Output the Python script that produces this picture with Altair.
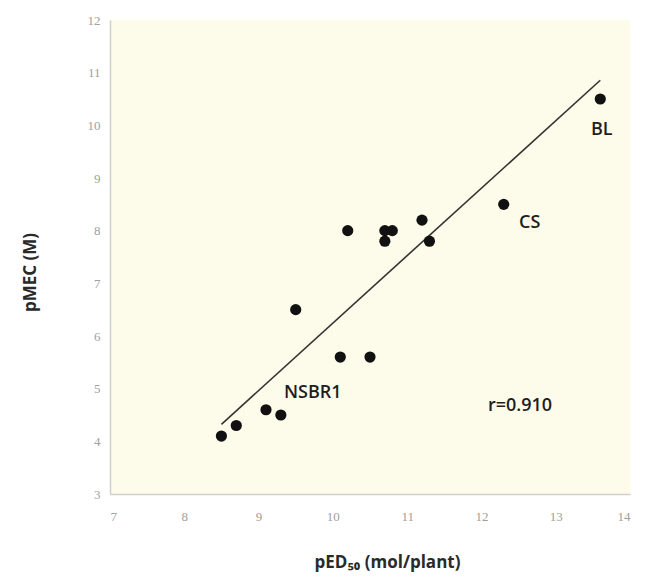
import altair as alt
import pandas as pd

# Data
ped50 = [8.5, 8.7, 9.1, 9.3, 9.5, 10.1, 10.5, 10.2, 10.7, 10.7, 10.8, 11.2, 11.3, 12.3, 13.6]
pmec = [4.1, 4.3, 4.6, 4.5, 6.5, 5.6, 5.6, 8.0, 7.8, 8.0, 8.0, 8.2, 7.8, 8.5, 10.5]

label_text = ["BL", "CS", "NSBR1", "r=0.910"]
label_x = [13.62, 12.65, 9.73, 12.52]
label_y = [9.92, 8.14, 4.91, 4.68]

x_ticks = [7, 8, 9, 10, 11, 12, 13, 14]
y_ticks = [3, 4, 5, 6, 7, 8, 9, 10, 11, 12]

df = pd.DataFrame({"x": ped50, "y": pmec})
lab = pd.DataFrame({"t": label_text, "x": label_x, "y": label_y})

xscale = alt.Scale(domain=[7, 14], nice=False, zero=False)
yscale = alt.Scale(domain=[3, 12], nice=False, zero=False)

xaxis = alt.Axis(
    values=x_ticks, format="d", grid=False, ticks=False, domainColor="#d0d0d0", domainWidth=1.5,
    labelFont="Liberation Serif", labelFontSize=13, labelColor="#a0a0a0", labelPadding=16,
    title="pED₅₀ (mol/plant)", titleFont="Open Sans", titleFontSize=17, titleFontWeight="bold",
    titleColor="#2a2a2a", titleX=277, titleY=60, titleBaseline="top",
)
yaxis = alt.Axis(
    values=y_ticks, format="d", grid=False, ticks=False, domainColor="#d0d0d0", domainWidth=1.5,
    labelFont="Liberation Serif", labelFontSize=13, labelColor="#a0a0a0", labelPadding=10,
    title="pMEC (M)", titleFont="Open Sans", titleFontSize=17, titleFontWeight="bold",
    titleColor="#2a2a2a", titleX=-80, titleY=252, titleAngle=-90, titleBaseline="middle",
    titleAlign="center",
)

base = alt.Chart(df)

points = base.mark_circle(size=125, color="#111111", opacity=1).encode(
    x=alt.X("x:Q", scale=xscale, axis=xaxis),
    y=alt.Y("y:Q", scale=yscale, axis=yaxis),
)

fit = base.transform_regression("x", "y", extent=[8.5, 13.6]).mark_line(
    color="#333333", strokeWidth=1.6
).encode(
    x=alt.X("x:Q", scale=xscale),
    y=alt.Y("y:Q", scale=yscale),
)

texts = alt.Chart(lab).mark_text(
    font="Open Sans", fontSize=18, fontWeight=600, color="#1e1e1e", align="center", baseline="middle"
).encode(
    x=alt.X("x:Q", scale=xscale),
    y=alt.Y("y:Q", scale=yscale),
    text="t:N",
)

chart = (
    alt.layer(fit, points, texts)
    .properties(
        width=520,
        height=474,
        autosize=alt.AutoSizeParams(type="none"),
        padding={"left": 110, "top": 20, "right": 23, "bottom": 85},
        background="white",
    )
    .configure_view(fill="#fdfbe9", stroke=None)
)

chart.save("out.html", embed_options={"renderer": "svg", "actions": False})
